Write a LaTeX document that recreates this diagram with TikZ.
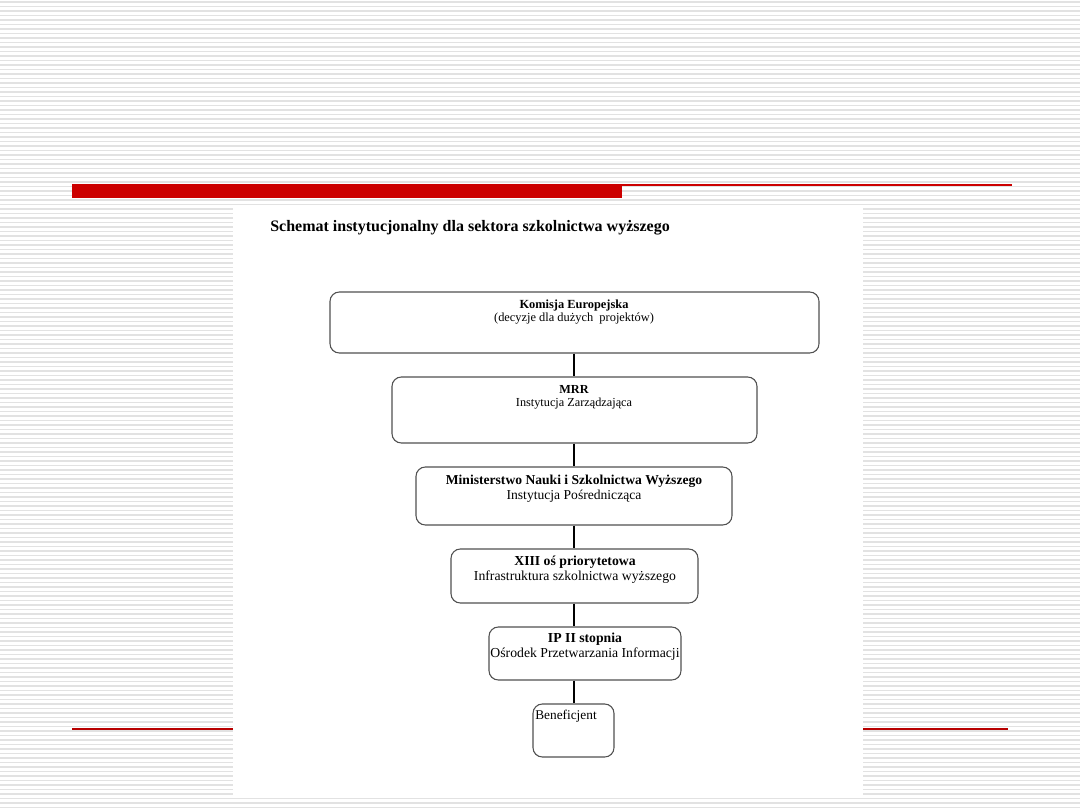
\documentclass[tikz,border=0pt]{standalone}
\usepackage{fontspec}
\setmainfont{Liberation Serif}
\definecolor{slidered}{HTML}{CC0000}
\definecolor{stripegray}{HTML}{E2E2E2}
\definecolor{boxgray}{HTML}{505050}
\begin{document}
\begin{tikzpicture}[x=0.75pt,y=-0.75pt,
  stripe/.style={draw=stripegray, line width=1.1pt},
  box/.style={draw=boxgray, line width=0.8pt, rounded corners=7pt, inner sep=0pt, fill=white},
  lbl/.style={anchor=base, inner sep=0pt, text=black},
  conn/.style={draw=black, line width=2.2pt}]
\useasboundingbox (0,0) rectangle (1080,810);
\fill[white] (0,0) rectangle (1080,810);
% striped background
\foreach \i in {0,...,180} \draw[stripe] (0,2+\i*4.5) -- (1080,2+\i*4.5);
% red header bar
\fill[slidered] (72,184) rectangle (622,198);
\fill[slidered] (622,184) rectangle (1012,186);
% bottom thin red line
\draw[slidered!90!black, line width=0.8pt] (72,729) -- (1008,729);
% white panel
\fill[white] (233,207) rectangle (863,797);
% title
\node[lbl, anchor=base west, font=\fontsize{12}{14}\selectfont\bfseries] (title) at (270,231) {Schemat instytucjonalny dla sektora szkolnictwa wyższego};
% boxes
\node[box, minimum width=366.75pt, minimum height=45.75pt] (k1) at (574.5,322.5) {};
\node[box, minimum width=273.75pt, minimum height=49.5pt] (k2) at (574.5,410) {};
\node[box, minimum width=237pt, minimum height=43.5pt] (k3) at (574,496) {};
\node[box, minimum width=185.25pt, minimum height=40.5pt] (k4) at (574.5,576) {};
\node[box, minimum width=144pt, minimum height=39.75pt] (k5) at (585,653.5) {};
\node[box, minimum width=60.75pt, minimum height=39.75pt] (k6) at (573.5,730.5) {};
% texts
\node[lbl, font=\fontsize{9.3}{11}\selectfont\bfseries] (t1a) at (574,308) {Komisja Europejska};
\node[lbl, font=\fontsize{9.3}{11}\selectfont] (t1b) at (574,321) {(decyzje dla dużych \ projektów)};
\node[lbl, font=\fontsize{9.2}{11}\selectfont\bfseries] (t2a) at (574,393) {MRR};
\node[lbl, font=\fontsize{9.2}{11}\selectfont] (t2b) at (574,406) {Instytucja Zarządzająca};
\node[lbl, font=\fontsize{10.2}{12}\selectfont\bfseries] (t3a) at (574,484) {Ministerstwo Nauki i Szkolnictwa Wyższego};
\node[lbl, font=\fontsize{10.2}{12}\selectfont] (t3b) at (574,499) {Instytucja Pośrednicząca};
\node[lbl, font=\fontsize{10.3}{12}\selectfont\bfseries] (t4a) at (575,565) {XIII oś priorytetowa};
\node[lbl, font=\fontsize{10.3}{12}\selectfont] (t4b) at (575,580) {Infrastruktura szkolnictwa wyższego};
\node[lbl, font=\fontsize{10.3}{12}\selectfont\bfseries] (t5a) at (585,642) {IP II stopnia};
\node[lbl, font=\fontsize{10.3}{12}\selectfont] (t5b) at (585,657) {Ośrodek Przetwarzania Informacji};
\node[lbl, anchor=base west, font=\fontsize{10}{12}\selectfont] (t6) at (535,719) {Beneficjent};
% connectors
\coordinate (axis) at (574,0);
\draw[conn] (k1.south -| axis) -- (k2.north -| axis);
\draw[conn] (k2.south -| axis) -- (k3.north -| axis);
\draw[conn] (k3.south -| axis) -- (k4.north -| axis);
\draw[conn] (k4.south -| axis) -- (k5.north -| axis);
\draw[conn] (k5.south -| axis) -- (k6.north -| axis);
\end{tikzpicture}
\end{document}
